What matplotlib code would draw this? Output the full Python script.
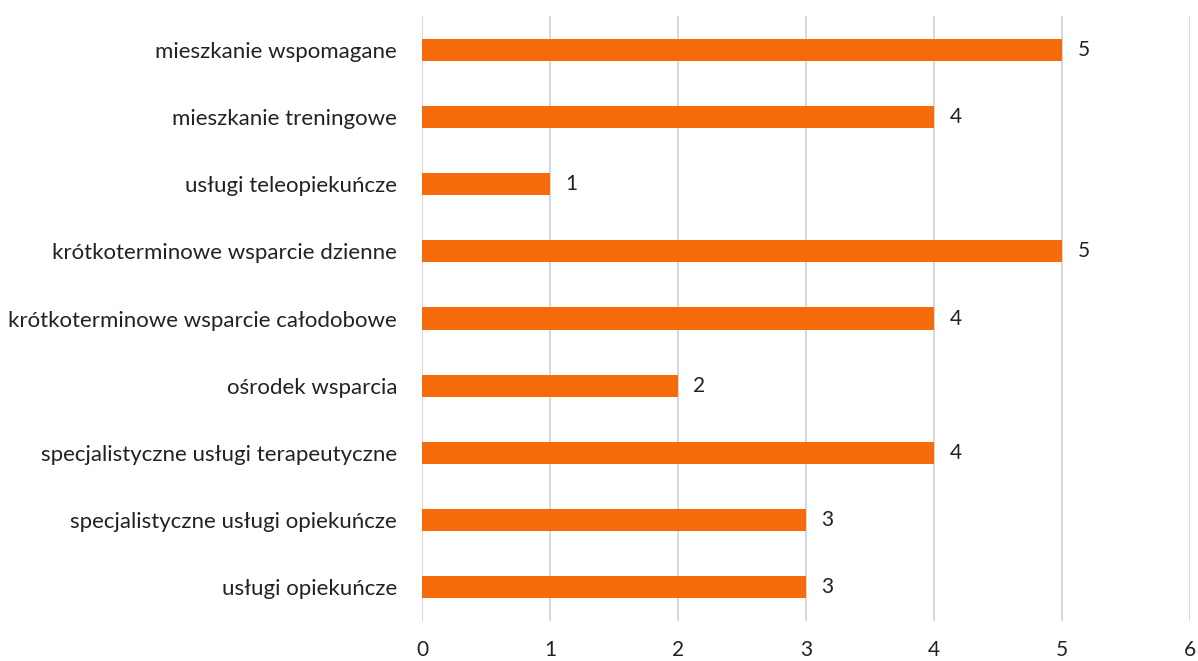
import matplotlib
matplotlib.use("Agg")
import matplotlib.pyplot as plt

categories = [
    "mieszkanie wspomagane",
    "mieszkanie treningowe",
    "usługi teleopiekuńcze",
    "krótkoterminowe wsparcie dzienne",
    "krótkoterminowe wsparcie całodobowe",
    "ośrodek wsparcia",
    "specjalistyczne usługi terapeutyczne",
    "specjalistyczne usługi opiekuńcze",
    "usługi opiekuńcze",
]
values = [5, 4, 1, 5, 4, 2, 4, 3, 3]
xticks = [0, 1, 2, 3, 4, 5, 6]

plt.rcParams['font.family'] = ['Lato', 'DejaVu Sans']

fig = plt.figure(figsize=(11.98, 6.61), dpi=100)
ax = fig.add_axes([0.3523, 0.0605, 0.6410, 0.9153])

ypos = list(range(len(categories)))[::-1]
ax.barh(ypos, values, height=0.33, color="#F56B0C", zorder=3)
for y, v in zip(ypos, values):
    ax.text(v + 0.12, y, str(v), va="center", ha="left", fontsize=15, color="#222222")

ax.set_xlim(0, 6)
ax.set_ylim(-0.5, len(categories) - 0.5)
ax.set_xticks(xticks)
ax.set_xticklabels([str(t) for t in xticks], fontsize=15, color="#222222")
ax.set_yticks(ypos)
ax.set_yticklabels(categories, fontsize=16, color="#222222")
ax.tick_params(axis="both", length=0)
ax.tick_params(axis="x", pad=14)
ax.tick_params(axis="y", pad=18)
ax.xaxis.grid(True, color="#D9D9D9", linewidth=1.5, zorder=0)
for s in ax.spines.values():
    s.set_visible(False)

fig.savefig("out.png", dpi=100)
